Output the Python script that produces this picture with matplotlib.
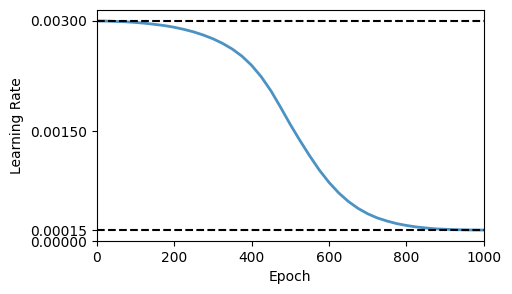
import matplotlib
matplotlib.use('Agg')
import matplotlib.pyplot as plt
from matplotlib.ticker import FormatStrFormatter

# values every 25 epochs
epochs = list(range(0, 1001, 25))
lr = [0.003000, 0.002999, 0.002994, 0.002989, 0.002980, 0.002969, 0.002954,
      0.002937, 0.002915, 0.002886, 0.002852, 0.002809, 0.002758, 0.002695,
      0.002618, 0.002521, 0.002396, 0.002239, 0.002048, 0.001823, 0.001589,
      0.001370, 0.001162, 0.000968, 0.000800, 0.000657, 0.000540, 0.000446,
      0.000372, 0.000315, 0.000273, 0.000238, 0.000213, 0.000193, 0.000179,
      0.000167, 0.000161, 0.000156, 0.000153, 0.000151, 0.000150]
lr_max = 0.003
lr_min = 0.00015
yticks = [0.0, 0.00015, 0.0015, 0.003]

fig = plt.figure(figsize=(5.12, 2.94), dpi=100)
ax = fig.add_axes([0.189, 0.180, 0.756, 0.786])

ax.plot(epochs, lr, color='C0', alpha=0.8, linewidth=2)
ax.axhline(lr_max, color='black', linestyle='--', linewidth=1.5)
ax.axhline(lr_min, color='black', linestyle='--', linewidth=1.5)

ax.set_xlim(0, 1000)
ax.set_ylim(0, 0.00315)
ax.set_yticks(yticks)
ax.yaxis.set_major_formatter(FormatStrFormatter('%.5f'))
ax.set_xlabel('Epoch')
ax.set_ylabel('Learning Rate')

fig.savefig('out.png', dpi=100)
